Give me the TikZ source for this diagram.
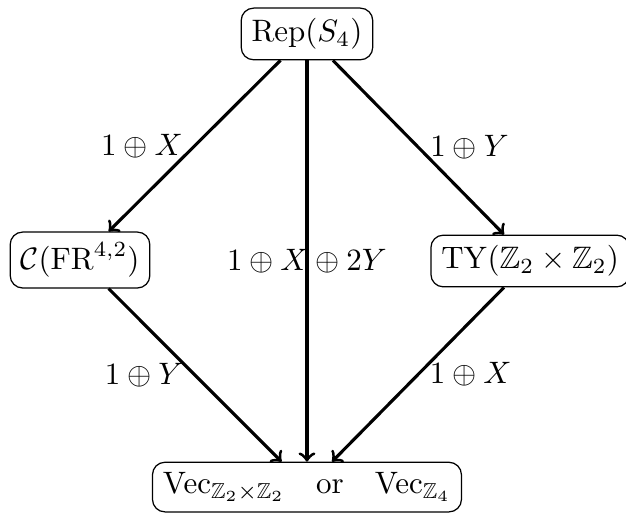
\documentclass[tikz,border=0pt]{standalone}
\usepackage{amsmath}
\usepackage{amssymb}
\usetikzlibrary{positioning}

\begin{document}
\begin{tikzpicture}[
    cat/.style={draw, rectangle, rounded corners=4pt},
    arrow/.style={->, line width=1pt}
]
\useasboundingbox (0,0) rectangle (7.097,5.805);

% Nodes
\node[cat] (rep) at (3.48,5.42) {$\mathrm{Rep}(S_4)$};
\node[cat] (fr) at (0.907,2.857) {$\mathcal{C}(\mathrm{FR}^{4,2})$};
\node[cat] (ty) at (6.009,2.846) {$\mathrm{TY}(\mathbb{Z}_2\times\mathbb{Z}_2)$};
\node[cat] (vec) at (3.48,0.283) {$\mathrm{Vec}_{\mathbb{Z}_2\times\mathbb{Z}_2}\quad\text{or}\quad\mathrm{Vec}_{\mathbb{Z}_4}$};

% Arrows with labels
\draw[arrow] (rep) -- node[left] {$1\oplus X$} (fr);
\draw[arrow] (rep) -- node[right] {$1\oplus Y$} (ty);
\draw[arrow] (rep) -- node {$1\oplus X\oplus 2Y$} (vec);
\draw[arrow] (fr) -- node[left] {$1\oplus Y$} (vec);
\draw[arrow] (ty) -- node[right] {$1\oplus X$} (vec);

\end{tikzpicture}
\end{document}
